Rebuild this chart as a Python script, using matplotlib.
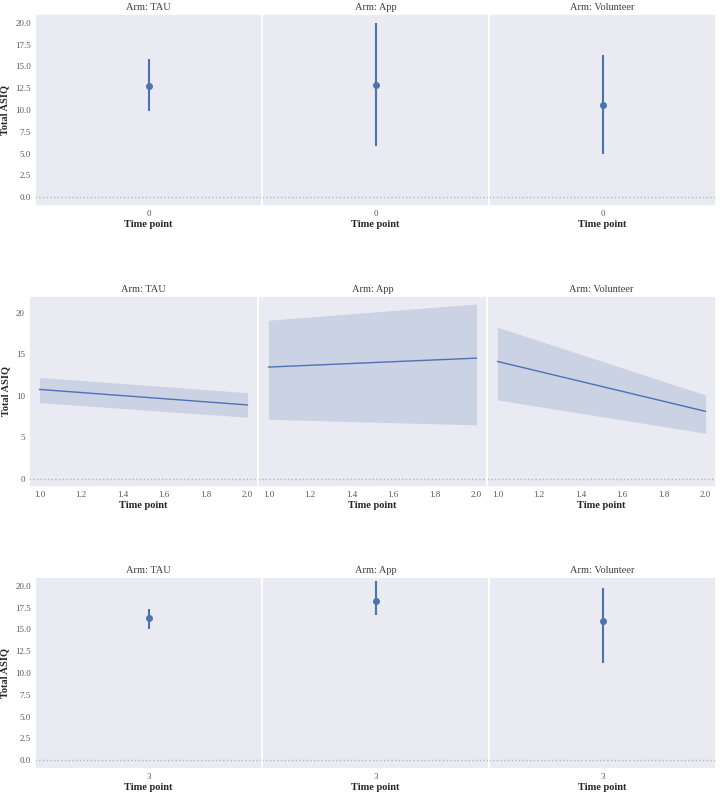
import numpy as np
import matplotlib
matplotlib.use("Agg")
import matplotlib.pyplot as plt
import seaborn as sns

sns.set_theme(style="dark")
plt.rcParams['font.family'] = ['Liberation Serif', 'DejaVu Serif']

arms = ["TAU", "App", "Volunteer"]

# row 1: baseline (time point 0), mean and 95% CI
base_mean = [12.8, 12.9, 10.6]
base_lo = [9.9, 5.9, 5.0]
base_hi = [15.8, 20.0, 16.3]

# row 2: time points 1 and 2, line with CI band
mid_x = [1.0, 2.0]
mid_mean = [[10.75, 8.88], [13.44, 14.52], [14.12, 8.11]]
mid_lo = [[9.16, 7.4], [7.15, 6.48], [9.48, 5.47]]
mid_hi = [[12.2, 10.36], [19.08, 21.04], [18.24, 10.08]]

# row 3: time point 3
end_mean = [16.3, 18.3, 16.0]
end_lo = [15.0, 16.7, 11.1]
end_hi = [17.3, 20.5, 19.7]

blue = "#4C72B0"
fig = plt.figure(figsize=(7.2, 8.0), dpi=100)

def row_axes(bottom, height, left, width):
    axs = []
    for i in range(3):
        ax = fig.add_axes([left + i * width, bottom, width, height])
        axs.append(ax)
    return axs

def style(ax, i, title):
    ax.set_title("Arm: " + title, fontsize=7.5, pad=3, color=".25")
    ax.set_xlabel("Time point", fontsize=7.5, fontweight="bold", labelpad=1, color=".15")
    ax.tick_params(labelsize=6.5, colors=".35", pad=3, length=0)
    ax.axhline(0, color="#b4b4bc", lw=1, ls=":", zorder=1)
    if i == 0:
        ax.set_ylabel("Total ASIQ", fontsize=7.5, fontweight="bold", labelpad=4, color=".15")
    else:
        ax.set_yticklabels([])

def point_row(axs, label, mean, lo, hi):
    for i, ax in enumerate(axs):
        m = mean[i]
        ax.errorbar([0], [m], yerr=[[m - lo[i]], [hi[i] - m]], fmt="o",
                    color=blue, ms=4, lw=1.5, capsize=0, zorder=3)
        ax.set_xlim(-0.5, 0.5)
        ax.set_xticks([0])
        ax.set_xticklabels([label])
        ax.set_ylim(-1.0, 21.0)
        ax.set_yticks(np.arange(0, 20.1, 2.5))
        style(ax, i, arms[i])

top = row_axes(1 - 206 / 800, 192 / 800, 35 / 720, 227 / 720)
point_row(top, "0", base_mean, base_lo, base_hi)

mid = row_axes(1 - 487 / 800, 191 / 800, 29 / 720, 229 / 720)
for i, ax in enumerate(mid):
    ax.fill_between(mid_x, mid_lo[i], mid_hi[i], color=blue, alpha=0.2, lw=0)
    ax.plot(mid_x, mid_mean[i], color=blue, lw=1)
    ax.set_xlim(0.95, 2.05)
    ax.set_xticks(np.arange(1.0, 2.01, 0.2))
    ax.set_xticklabels(["%.1f" % v for v in np.arange(1.0, 2.01, 0.2)])
    ax.set_ylim(-1.0, 22.0)
    ax.set_yticks([0, 5, 10, 15, 20])
    style(ax, i, arms[i])

bot = row_axes(1 - 769 / 800, 192 / 800, 35 / 720, 227 / 720)
point_row(bot, "3", end_mean, end_lo, end_hi)

fig.savefig("out.png", dpi=100)
